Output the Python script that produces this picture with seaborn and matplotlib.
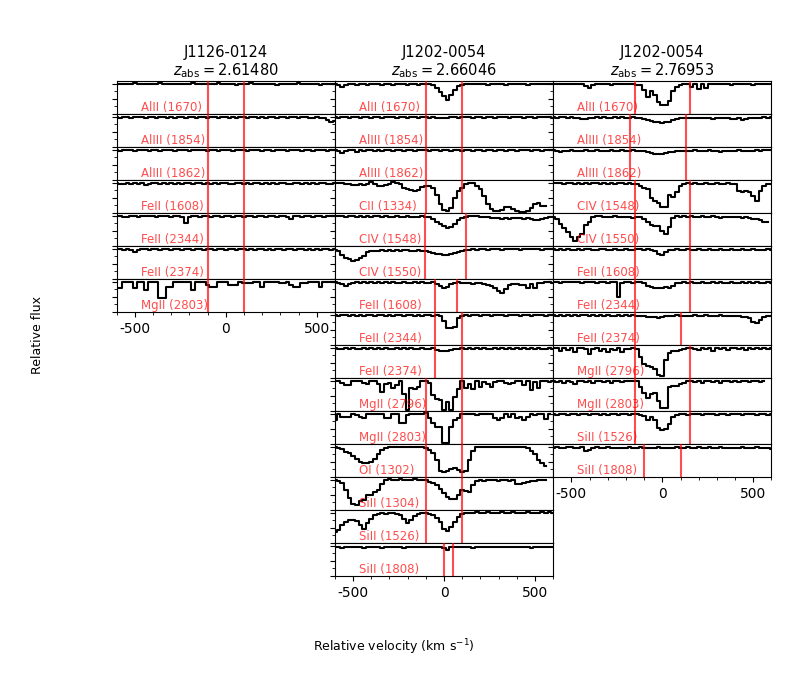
import numpy as np
import matplotlib
matplotlib.use("Agg")
import matplotlib.pyplot as plt
from matplotlib.ticker import MultipleLocator
import seaborn as sns

plt.rcParams['axes.unicode_minus'] = False
plt.rcParams['font.family'] = ['DejaVu Sans']

nan = np.nan

# velocity bins (km/s), flux values below are in percent of continuum
VEL_STEP = 20
velocity = np.arange(-600, 601, VEL_STEP)

# ---- J1126-0124, z=2.61480
j1126_alii_1670 = [99, 100, 98, 100, 99, 101, 100, 98, 99, 100,
                   100, 99, 101, 100, 98, 99, 100, 100, 99, 98,
                   100, 101, 99, 100, 99, 98, 100, 99, 101, 100,
                   99, 100, 98, 97, 100, 99, 100, 101, 99, 100,
                   98, 100, 99, 100, 97, 99, 100, 98, 100, 99,
                   101, 99, 100, 98, 99, 100, 97, 99, 100, 98,
                   99]
j1126_aliii_1854 = [98, 97, 99, 98, 96, 99, 98, 100, 97, 98,
                    99, 97, 98, 99, 97, 98, 96, 99, 98, 97,
                    99, 98, 97, 99, 98, 96, 99, 98, 97, 98,
                    99, 97, 98, 96, 98, 99, 97, 98, 99, 97,
                    98, 96, 99, 98, 97, 99, 98, 96, 98, 99,
                    97, 98, 99, 97, 96, 98, 97, 95, 90, 84,
                    86]
j1126_aliii_1862 = [99, 97, 98, 100, 98, 97, 99, 98, 100, 97,
                    98, 99, 97, 99, 98, 100, 97, 98, 99, 98,
                    97, 99, 98, 100, 98, 97, 99, 98, 97, 99,
                    98, 100, 97, 98, 99, 98, 97, 99, 98, 100,
                    97, 98, 99, 97, 98, 100, 98, 97, 99, 98,
                    100, 97, 98, 99, 97, 98, 99, 98, 97, 99,
                    98]
j1126_feii_1608 = [98, 97, 95, 98, 96, 99, 97, 98, 94, 97,
                   98, 99, 96, 98, 97, 99, 95, 98, 97, 99,
                   98, 96, 98, 99, 97, 98, 96, 99, 97, 98,
                   99, 97, 95, 98, 99, 97, 98, 96, 99, 98,
                   97, 99, 96, 98, 97, 99, 98, 95, 97, 99,
                   98, 96, 99, 97, 98, 95, 98, 99, 97, 96,
                   98]
j1126_feii_2344 = [98, 99, 97, 96, 99, 98, 97, 99, 98, 100,
                   98, 97, 99, 98, 99, 97, 98, 99, 97, 76,
                   96, 99, 98, 97, 99, 98, 96, 99, 98, 97,
                   99, 98, 97, 99, 98, 97, 99, 98, 96, 99,
                   98, 97, 99, 98, 97, 99, 98, 97, 89, 98,
                   99, 97, 98, 99, 97, 98, 99, 97, 98, 99,
                   98]
j1126_feii_2374 = [98, 99, 97, 98, 96, 90, 97, 99, 98, 97,
                   99, 98, 96, 99, 98, 97, 99, 98, 97, 99,
                   98, 96, 99, 98, 97, 99, 98, 97, 99, 98,
                   96, 99, 98, 97, 99, 98, 96, 99, 97, 98,
                   99, 97, 98, 95, 99, 98, 97, 99, 98, 96,
                   99, 98, 97, 99, 96, 98, 97, 99, 98, 97,
                   99]
j1126_mgii_2803 = [80, 78, 99, 99, 99, 78, 99, 99, 73, 99,
                   99, 99, 46, 46, 84, 84, 98, 99, 99, 99,
                   99, 73, 99, 98, 99, 88, 84, 84, 99, 98,
                   99, 88, 88, 88, 99, 97, 97, 97, 99, 99,
                   84, 99, 99, 99, 99, 96, 96, 99, 88, 84,
                   84, 96, 96, 99, 99, 99, 84, 99, 99, 99,
                   99]

# ---- J1202-0054, z=2.66046
j1202a_alii_1670 = [99, 97, 90, 97, 99, 98, 96, 99, 98, 97,
                    99, 100, 98, 97, 99, 98, 97, 99, 98, 99,
                    97, 98, 99, 97, 98, 99, 98, 94, 85, 72,
                    60, 45, 62, 80, 93, 97, 99, 98, 100, 99,
                    98, 99, 97, 99, 100, 98, 99, 97, 98, 99,
                    100, 98, 99, 97, 98, 99, 98, 100, 99, 98,
                    99]
j1202a_aliii_1854 = [98, 97, 99, 98, 97, 99, 98, 97, 99, 98,
                     97, 99, 98, 97, 99, 98, 98, 97, 99, 98,
                     97, 99, 98, 97, 98, 99, 97, 98, 96, 97,
                     96, 97, 98, 99, 97, 98, 99, 98, 97, 99,
                     98, 97, 99, 98, 97, 99, 98, 99, 97, 98,
                     99, 98, 97, 99, 98, 97, 99, 98, 99, 98,
                     97]
j1202a_aliii_1862 = [98, 96, 90, 97, 99, 98, 94, 98, 97, 99,
                     98, 97, 99, 96, 98, 99, 97, 98, 99, 97,
                     98, 99, 97, 98, 99, 98, 97, 99, 98, 97,
                     99, 98, 97, 99, 98, 96, 98, 99, 97, 98,
                     99, 97, 98, 99, 96, 98, 99, 97, 98, 99,
                     97, 98, 99, 98, 97, 99, 98, 97, 99, 98,
                     99]
j1202a_cii_1334 = [100, 99, 100, 97, 95, 94, 94, 96, 94, 97,
                   102, 97, 90, 89, 92, 97, 104, 100, 97, 82,
                   78, 77, 73, 76, 86, 90, 88, 84, 60, 30,
                   8, 6, 17, 50, 72, 83, 95, 99, 98, 90,
                   80, 55, 30, 12, 6, 6, 10, 18, 20, 12,
                   6, 4, 2, 5, 15, 30, 33, 22, 22, nan,
                   nan]
j1202a_civ_1548 = [99, 98, 99, 97, 98, 99, 97, 98, 96, 98,
                   97, 98, 99, 97, 98, 97, 96, 98, 97, 96,
                   98, 97, 96, 97, 98, 96, 96, 90, 80, 72,
                   65, 60, 64, 74, 85, 93, 97, 98, 99, 98,
                   96, 97, 95, 94, 92, 91, 90, 92, 90, 91,
                   93, 92, 90, 91, 89, 86, 87, 90, 93, 95,
                   96]
j1202a_civ_1550 = [95, 92, 78, 70, 66, 60, 62, 68, 75, 88,
                   93, 94, 93, 95, 94, 96, 93, 95, 94, 96,
                   95, 93, 94, 95, 94, 92, 88, 86, 84, 82,
                   80, 79, 82, 86, 90, 94, 96, 97, 98, 97,
                   98, 99, 97, 98, 99, 98, 97, 99, 98, 99,
                   98, 97, 99, 98, 99, 98, 99, 97, 98, 99,
                   98]
j1202a_feii_1608 = [98, 96, 93, 85, 94, 97, 98, 96, 98, 97,
                    99, 97, 98, 96, 98, 97, 98, 96, 97, 98,
                    97, 96, 98, 97, 98, 97, 96, 98, 92, 85,
                    80, 82, 92, 96, 98, 97, 96, 95, 94, 96,
                    95, 93, 90, 86, 80, 70, 63, 75, 88, 92,
                    94, 90, 88, 80, 92, 78, 95, 97, 98, 99,
                    97]
j1202a_feii_2344 = [98, 97, 99, 98, 97, 98, 96, 98, 97, 99,
                    98, 97, 98, 99, 97, 98, 97, 99, 98, 97,
                    98, 99, 97, 98, 97, 98, 99, 97, 98, 96,
                    80, 57, 55, 58, 88, 97, 98, 97, 99, 98,
                    97, 98, 99, 97, 98, 99, 98, 97, 98, 99,
                    98, 97, 99, 98, 97, 98, 99, 98, 97, 98,
                    99]
j1202a_feii_2374 = [98, 96, 97, 98, 96, 98, 97, 95, 98, 97,
                    98, 96, 98, 97, 98, 97, 96, 98, 97, 98,
                    97, 98, 96, 97, 98, 97, 96, 98, 94, 90,
                    91, 88, 92, 95, 97, 98, 97, 98, 96, 98,
                    97, 98, 97, 96, 98, 97, 98, 97, 98, 96,
                    98, 97, 98, 97, 98, 97, 98, 96, 97, 98,
                    97]
j1202a_mgii_2796 = [100, 100, 92, 86, 86, 100, 98, 100, 92, 88,
                    100, 98, 90, 63, 88, 92, 75, 85, 100, 55,
                    2, 75, 72, 78, 98, 100, 92, 52, 38, 36,
                    2, 30, 2, 47, 74, 98, 75, 90, 72, 100,
                    80, 95, 90, 80, 95, 100, 98, 92, 90, 92,
                    98, 100, 85, 100, 70, 95, 75, 98, 100, 97,
                    99]
j1202a_mgii_2803 = [80, 100, 90, 90, 90, 100, 96, 90, 85, 98,
                    100, 100, 98, 100, 85, 85, 98, 100, 68, 68,
                    95, 100, 99, 98, 100, 102, 85, 68, 57, 57,
                    2, 2, 57, 79, 85, 100, 98, 99, 100, 97,
                    99, 100, 98, 99, 85, 80, 85, 99, 90, 98,
                    85, 88, 80, 88, 99, 97, 99, 100, 82, 99,
                    nan]
j1202a_oi_1302 = [100, 97, 92, 84, 78, 70, 60, 48, 45, 45,
                  50, 60, 75, 88, 97, 100, 100, 99, 100, 100,
                  99, 100, 99, 100, 100, 95, 88, 78, 55, 20,
                  18, 20, 25, 30, 22, 18, 20, 55, 85, 98,
                  100, 99, 100, 100, 99, 100, 100, 99, 100, 100,
                  99, 100, 98, 95, 85, 75, 55, 45, 35, nan,
                  nan]
j1202a_siii_1304 = [100, 95, 90, 67, 40, 20, 17, 30, 33, 50,
                    50, 60, 67, 85, 100, 102, 101, 100, 102, 101,
                    100, 101, 102, 100, 101, 100, 92, 90, 83, 70,
                    55, 42, 35, 36, 50, 65, 62, 60, 83, 95,
                    100, 98, 99, 100, 99, 98, 99, 100, 98, 99,
                    88, 85, 90, 92, 95, 97, 100, 101, 100, nan,
                    nan]
j1202a_siii_1526 = [37, 42, 60, 70, 76, 76, 72, 60, 45, 65,
                    80, 93, 98, 99, 98, 100, 99, 98, 93, 80,
                    66, 78, 90, 98, 100, 99, 97, 93, 82, 70,
                    45, 40, 52, 70, 88, 97, 99, 101, 100, 102,
                    101, 100, 102, 101, 100, 101, 102, 100, 101, 102,
                    101, 100, 101, 102, 101, 100, 101, 102, 101, 102,
                    101]
j1202a_siii_1808 = [96, 97, 94, 97, 98, 95, 97, 96, 94, 97,
                    96, 95, 97, 94, 96, 97, 95, 96, 97, 94,
                    96, 95, 97, 96, 97, 98, 96, 97, 95, 97,
                    94, 86, 96, 97, 95, 97, 96, 97, 94, 96,
                    97, 95, 96, 97, 96, 95, 97, 98, 96, 97,
                    95, 96, 97, 95, 94, 96, 97, 95, 96, 97,
                    95]

# ---- J1202-0054, z=2.76953
j1202b_alii_1670 = [100, 99, 100, 98, 99, 100, 99, 99, 98, 93,
                    85, 97, 99, 100, 98, 99, 97, 99, 98, 100,
                    99, 98, 99, 97, 95, 80, 55, 75, 62, 40,
                    30, 30, 42, 75, 90, 97, 99, 98, 90, 100,
                    82, 98, 85, 99, 98, 99, 100, 98, 99, 97,
                    100, 99, 98, 100, 99, 97, 99, 100, 98, 99,
                    98]
j1202b_aliii_1854 = [98, 97, 99, 98, 97, 98, 96, 97, 92, 93,
                     95, 97, 98, 97, 98, 96, 97, 98, 97, 98,
                     96, 97, 98, 97, 95, 92, 88, 85, 83, 82,
                     80, 82, 84, 88, 93, 95, 97, 96, 97, 95,
                     96, 97, 95, 96, 94, 96, 97, 95, 96, 94,
                     93, 95, 90, 94, 96, 95, 97, 96, 98, 97,
                     98]
j1202b_aliii_1862 = [98, 96, 91, 95, 97, 98, 96, 97, 95, 98,
                     97, 96, 98, 97, 95, 97, 98, 96, 97, 98,
                     97, 96, 98, 97, 96, 95, 93, 90, 87, 85,
                     86, 88, 91, 94, 96, 97, 95, 96, 97, 98,
                     96, 97, 95, 98, 96, 97, 94, 96, 97, 95,
                     96, 98, 97, 95, 96, 97, 98, 97, 99, 98,
                     99]
j1202b_civ_1548 = [99, 98, 99, 97, 98, 99, 97, 98, 96, 98,
                   97, 98, 99, 97, 98, 96, 98, 97, 99, 98,
                   97, 98, 96, 95, 90, 82, 78, 50, 40, 34,
                   20, 20, 58, 52, 70, 88, 96, 98, 97, 98,
                   96, 97, 98, 96, 97, 98, 97, 96, 98, 97,
                   96, 73, 70, 72, 68, 55, 40, 72, 88, 95,
                   96]
j1202b_civ_1550 = [97, 90, 72, 60, 45, 30, 17, 30, 40, 70,
                   80, 95, 100, 98, 96, 97, 95, 98, 96, 97,
                   95, 96, 94, 97, 95, 90, 78, 70, 67, 65,
                   50, 40, 61, 94, 98, 97, 99, 97, 98, 96,
                   97, 98, 96, 97, 98, 96, 94, 95, 96, 97,
                   96, 95, 94, 96, 92, 89, 88, 85, 78, 78,
                   nan]
j1202b_feii_1608 = [98, 97, 99, 96, 98, 97, 95, 98, 97, 99,
                    98, 96, 97, 99, 98, 97, 96, 98, 95, 97,
                    98, 96, 97, 99, 98, 97, 98, 96, 93, 82,
                    78, 90, 96, 97, 98, 96, 97, 98, 97, 95,
                    98, 96, 97, 98, 95, 97, 98, 96, 97, 98,
                    97, 95, 98, 97, 96, 98, 97, 95, 97, 98,
                    97]
j1202b_feii_2344 = [99, 98, 97, 99, 98, 100, 98, 99, 97, 98,
                    99, 98, 97, 98, 99, 97, 98, 99, 48, 95,
                    99, 98, 97, 99, 98, 95, 86, 84, 80, 78,
                    80, 82, 80, 85, 95, 97, 98, 97, 98, 96,
                    97, 98, 97, 96, 98, 97, 98, 95, 97, 98,
                    96, 97, 98, 97, 99, 97, 98, 96, 97, 98,
                    97]
j1202b_feii_2374 = [98, 97, 99, 97, 98, 96, 98, 97, 99, 98,
                    96, 98, 97, 99, 97, 98, 96, 97, 98, 97,
                    99, 97, 98, 96, 97, 95, 93, 92, 94, 90,
                    92, 95, 96, 97, 98, 97, 95, 96, 97, 98,
                    96, 97, 98, 95, 97, 96, 98, 97, 96, 95,
                    97, 95, 94, 92, 88, 75, 72, 82, 92, 95,
                    96]
j1202b_mgii_2796 = [100, 98, 90, 100, 92, 98, 85, 98, 100, 95,
                    78, 97, 98, 90, 96, 85, 97, 92, 98, 85,
                    95, 97, 99, 96, 68, 46, 40, 35, 29, 10,
                    7, 60, 84, 88, 90, 94, 96, 99, 100, 97,
                    92, 100, 95, 98, 90, 99, 97, 100, 93, 98,
                    99, 96, 100, 92, 98, 97, 100, 95, 99, 97,
                    99]
j1202b_mgii_2803 = [98, 96, 100, 92, 99, 97, 90, 100, 98, 95,
                    100, 92, 98, 99, 96, 100, 93, 98, 99, 97,
                    100, 98, 100, 98, 80, 60, 44, 55, 61, 33,
                    9, 9, 80, 83, 83, 89, 94, 98, 100, 97,
                    99, 93, 98, 100, 96, 99, 92, 98, 100, 97,
                    99, 95, 100, 98, 96, 99, 100, 97, 98, nan,
                    nan]
j1202b_siii_1526 = [99, 97, 98, 100, 97, 99, 98, 96, 99, 98,
                    97, 99, 98, 96, 99, 97, 98, 99, 97, 98,
                    99, 97, 98, 99, 97, 93, 80, 88, 80, 54,
                    46, 48, 66, 88, 97, 98, 99, 97, 98, 99,
                    99, 97, 98, 99, 98, 97, 99, 98, 97, 99,
                    98, 99, 97, 98, 99, 98, 97, 99, 98, 97,
                    99]
j1202b_siii_1808 = [97, 98, 96, 97, 99, 98, 96, 97, 98, 87,
                    90, 97, 98, 96, 97, 98, 96, 97, 95, 96,
                    97, 98, 96, 97, 98, 97, 95, 96, 97, 98,
                    96, 97, 95, 96, 98, 97, 96, 98, 97, 96,
                    98, 97, 96, 98, 97, 96, 98, 97, 96, 95,
                    97, 96, 98, 97, 96, 97, 98, 96, 97, 95,
                    94]

titles = ["J1126-0124\n$z_{\\rm abs} = 2.61480$",
          "J1202-0054\n$z_{\\rm abs} = 2.66046$",
          "J1202-0054\n$z_{\\rm abs} = 2.76953$"]

# (label, flux, velocity limits of the component window)
col1 = [("AlII (1670)", j1126_alii_1670, (-100, 100)),
        ("AlIII (1854)", j1126_aliii_1854, (-100, 100)),
        ("AlIII (1862)", j1126_aliii_1862, (-100, 100)),
        ("FeII (1608)", j1126_feii_1608, (-100, 100)),
        ("FeII (2344)", j1126_feii_2344, (-100, 100)),
        ("FeII (2374)", j1126_feii_2374, (-100, 100)),
        ("MgII (2803)", j1126_mgii_2803, (-100, 100))]
col2 = [("AlII (1670)", j1202a_alii_1670, (-100, 100)),
        ("AlIII (1854)", j1202a_aliii_1854, (-100, 100)),
        ("AlIII (1862)", j1202a_aliii_1862, (-100, 100)),
        ("CII (1334)", j1202a_cii_1334, (-100, 100)),
        ("CIV (1548)", j1202a_civ_1548, (-105, 120)),
        ("CIV (1550)", j1202a_civ_1550, (-105, 120)),
        ("FeII (1608)", j1202a_feii_1608, (-50, 70)),
        ("FeII (2344)", j1202a_feii_2344, (-50, 100)),
        ("FeII (2374)", j1202a_feii_2374, (-50, 100)),
        ("MgII (2796)", j1202a_mgii_2796, (-100, 100)),
        ("MgII (2803)", j1202a_mgii_2803, (-100, 100)),
        ("OI (1302)", j1202a_oi_1302, (-100, 100)),
        ("SiII (1304)", j1202a_siii_1304, (-100, 100)),
        ("SiII (1526)", j1202a_siii_1526, (-100, 100)),
        ("SiII (1808)", j1202a_siii_1808, (0, 50))]
col3 = [("AlII (1670)", j1202b_alii_1670, (-150, 150)),
        ("AlIII (1854)", j1202b_aliii_1854, (-180, 130)),
        ("AlIII (1862)", j1202b_aliii_1862, (-180, 130)),
        ("CIV (1548)", j1202b_civ_1548, (-150, 150)),
        ("CIV (1550)", j1202b_civ_1550, (-150, 150)),
        ("FeII (1608)", j1202b_feii_1608, (-150, 150)),
        ("FeII (2344)", j1202b_feii_2344, (-150, 150)),
        ("FeII (2374)", j1202b_feii_2374, (-150, 100)),
        ("MgII (2796)", j1202b_mgii_2796, (-150, 150)),
        ("MgII (2803)", j1202b_mgii_2803, (-150, 150)),
        ("SiII (1526)", j1202b_siii_1526, (-150, 150)),
        ("SiII (1808)", j1202b_siii_1808, (-100, 100))]
columns = [col1, col2, col3]

line_red = (1.0, 0.0, 0.0)

fig = plt.figure(figsize=(7.88, 6.78), dpi=100)
gs = fig.add_gridspec(15, 3, left=0.148, right=0.979, top=0.881,
                      bottom=0.1505, hspace=0, wspace=0)

for c, panels in enumerate(columns):
    for r, (label, flux, window) in enumerate(panels):
        ax = fig.add_subplot(gs[r, c])
        sns.lineplot(x=velocity, y=np.array(flux, dtype=float) / 100., ax=ax,
                     color='black', linewidth=1.5, drawstyle='steps-mid',
                     estimator=None, sort=True)
        for v in window:
            ax.axvline(v, color=line_red, alpha=0.7, lw=1.5, zorder=3)
        ax.text(0.11, 0.08, label, transform=ax.transAxes, color=line_red,
                alpha=0.7, fontsize=8.5, va='baseline', ha='left')
        ax.set_xlim(-600, 600)
        ax.set_ylim(0, 1.1)
        ax.set_xlabel('')
        ax.set_ylabel('')
        ax.xaxis.set_major_locator(MultipleLocator(500))
        ax.xaxis.set_minor_locator(MultipleLocator(100))
        ax.yaxis.set_major_locator(MultipleLocator(0.5))
        ax.yaxis.set_minor_locator(MultipleLocator(0.25))
        ax.tick_params(axis='y', which='both', labelleft=False)
        if r == len(panels) - 1:
            ax.tick_params(axis='x', labelsize=10)
        else:
            ax.tick_params(axis='x', which='both', bottom=False, labelbottom=False)
        if r == 0:
            ax.set_title(titles[c], fontsize=10.5, pad=4, linespacing=1.1)

fig.text(0.5, 0.045, "Relative velocity (km s$^{-1}$)", ha='center', va='center', fontsize=9)
fig.text(0.047, 0.506, "Relative flux", ha='center', va='center', rotation=90, fontsize=9)

fig.savefig("out.png", dpi=100)
